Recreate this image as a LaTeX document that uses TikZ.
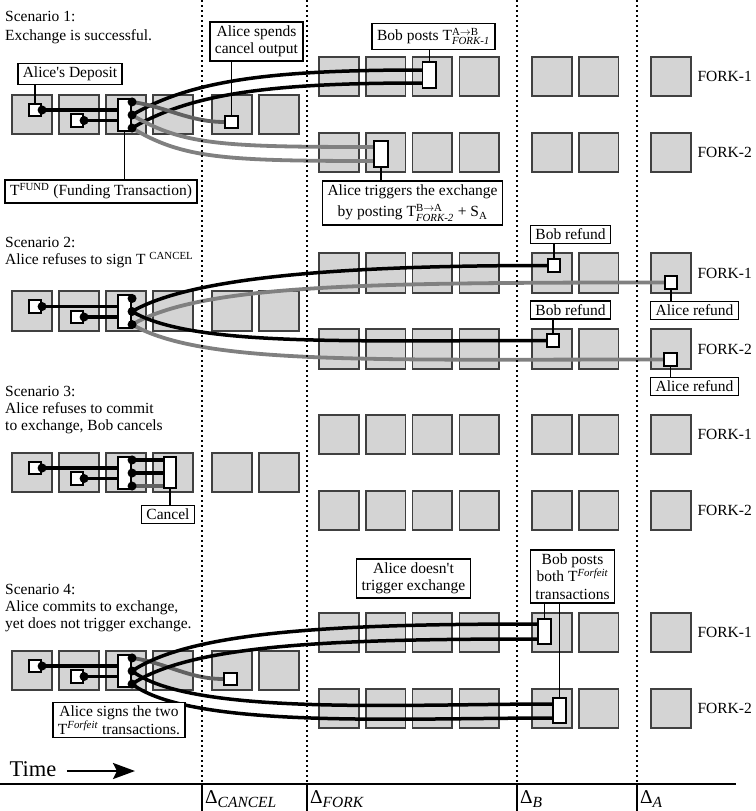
\documentclass[tikz,border=0pt]{standalone}
\usepackage{amsmath}
\usepackage{fontspec}
\setmainfont{Liberation Serif}
\usetikzlibrary{positioning, calc, arrows.meta}

\pgfdeclarelayer{blocks}
\pgfdeclarelayer{wires}
\pgfsetlayers{blocks,wires,main}

\begin{document}
\begin{tikzpicture}[x=1pt, y=-1pt,
    font=\fontsize{15.5}{17.5}\selectfont,
    blk/.style={draw=black!75, fill=black!17, line width=1.6pt, minimum size=39.5pt, inner sep=0pt},
    wbox/.style={draw=black, fill=white, line width=1.6pt, inner sep=0pt, minimum width=12.5pt, minimum height=12.5pt},
    dot/.style={circle, fill=black, inner sep=0pt, minimum size=9pt},
    lbl/.style={draw=black, fill=white, line width=1.5pt, inner xsep=5pt, inner ysep=3.5pt, align=center},
    scen/.style={anchor=north west, inner sep=0pt, align=left, font=\fontsize{15.5}{17}\selectfont},
    conn/.style={line width=1.2pt},
    tline/.style={line width=3.5pt, black},
    gline/.style={line width=3.8pt, black!50},
    cline/.style={line width=3.8pt, black!62},
    period/.style={line width=1.8pt, dash pattern=on 1.8pt off 3.2pt}]
  \useasboundingbox (0,0) rectangle (755,811);

  % Chain blocks
  \begin{pgfonlayer}{blocks}
  \foreach \s/\m in {1/114.5, 2/311, 3/472.5, 4/670.5} {
    \foreach \i/\x in {1/32, 2/79, 3/126, 4/173, 5/232, 6/279}
      \node[blk] (m\s-\i) at (\x,\m) {};
    \foreach \i/\x in {1/339, 2/385.7, 3/432.4, 4/479.1, 5/552, 6/598.7, 7/671} {
      \node[blk] (a\s-\i) at (\x,{\m-38}) {};
      \node[blk] (b\s-\i) at (\x,{\m+38}) {};
    }
  }
  \end{pgfonlayer}

  % Fork names
  \foreach \s/\m in {1/114.5, 2/311, 3/472.5, 4/670.5} {
    \node[anchor=west] (fa\s) at (694,{\m-38}) {FORK-1};
    \node[anchor=west] (fb\s) at (694,{\m+38}) {FORK-2};
  }

  % Deposits and funding transaction
  \foreach \s in {1,...,4} {
    \node[wbox] (dep\s) at ([shift={(3,-4.5)}]m\s-1.center) {};
    \node[wbox] (dpb\s) at ([shift={(-2,6)}]m\s-2.center) {};
    \node[wbox, minimum width=13.5pt, minimum height=32.5pt] (fund\s) at ([shift={(-1.5,0.5)}]m\s-3.center) {};
    \node[dot] (dd\s-1) at (dep\s.east) {};
    \node[dot] (dd\s-2) at (dpb\s.east) {};
    \node[dot] (fd\s-1) at ([yshift=-4pt]fund\s.north east) {};
    \node[dot] (fd\s-2) at (fund\s.east) {};
    \node[dot] (fd\s-3) at ([yshift=4pt]fund\s.south east) {};
    \begin{pgfonlayer}{wires}
      \draw[tline] (dd\s-1.center) -- (dd\s-1 -| fund\s.west);
      \draw[tline] (dd\s-2.center) -- (dd\s-2 -| fund\s.west);
    \end{pgfonlayer}
  }

  % Scenario 1
  \node[scen] (sc1) at (5,11.5) {Scenario 1:\\[2pt]Exchange is successful.};
  \node[lbl] (depl) at (70,74) {Alice\textquotesingle s Deposit};
  \draw[conn] (dep1.north) -- (dep1.north |- depl.south);
  \node[lbl] (fundl) at (101,191.5) {T\textsuperscript{FUND} (Funding Transaction)};
  \draw[conn] (fund1.south) -- (fund1.south |- fundl.north);
  \node[wbox] (co1) at ([shift={(-0.5,7.5)}]m1-5.center) {};
  \node[lbl] (col) at (256.5,41.5) {Alice spends\\cancel output};
  \draw[conn] (co1.north) -- (co1.north |- col.south);
  \node[wbox, minimum width=13.5pt, minimum height=26.5pt] (ab1) at ([shift={(-3,-1.5)}]a1-3.center) {};
  \node[lbl, inner ysep=4.5pt] (abl) at (433.5,36.5) {Bob posts T$^{\textrm{A}\to\textrm{B}}_{\textit{FORK-1}}$};
  \draw[conn] (ab1.north) -- (ab1.north |- abl.south);
  \node[wbox, minimum width=14.5pt, minimum height=26.5pt] (ba1) at ([shift={(-4.7,1.5)}]b1-2.center) {};
  \node[lbl] (bal) at (412.5,203) {Alice triggers the exchange\\[4pt]by posting T$^{\textrm{B}\to\textrm{A}}_{\textit{FORK-2}}$ + S$_{\textrm{A}}$};
  \draw[conn] (ba1.south) -- (ba1.south |- bal.north);
  \begin{pgfonlayer}{wires}
    \draw[tline] (fd1-2.center) .. controls +(60,-35) and +(-150,0) .. ([yshift=5pt]ab1.west);
    \draw[tline] (fd1-3.center) .. controls +(60,-35) and +(-150,0) .. ([yshift=-8pt]ab1.west);
    \draw[cline] (fd1-1.center) .. controls +(35,5) and +(-35,0) .. (co1.west);
    \draw[gline] (fd1-2.center) .. controls +(50,30) and +(-150,0) .. ([yshift=7pt]ba1.west);
    \draw[gline] (fd1-3.center) .. controls +(50,30) and +(-150,0) .. ([yshift=-7pt]ba1.west);
  \end{pgfonlayer}

  % Scenario 2
  \node[scen] (sc2) at (5,237.5) {Scenario 2:\\Alice refuses to sign T \textsuperscript{CANCEL}};
  \node[wbox] (bo2a) at ([shift={(2,-7.5)}]a2-5.center) {};
  \node[wbox] (al2a) at ([shift={(0,9.5)}]a2-7.center) {};
  \node[wbox] (bo2b) at ([shift={(1,-8.5)}]b2-5.center) {};
  \node[wbox] (al2b) at ([shift={(-0.5,10.5)}]b2-7.center) {};
  \node[lbl] (bol2a) at (570.5,234.5) {Bob refund};
  \node[lbl] (all2a) at (694.5,310.5) {Alice refund};
  \node[lbl] (bol2b) at (570.5,310) {Bob refund};
  \node[lbl] (all2b) at (694.5,386.5) {Alice refund};
  \draw[conn] (bo2a.north) -- (bo2a.north |- bol2a.south);
  \draw[conn] (al2a.south) -- (al2a.south |- all2a.north);
  \draw[conn] (bo2b.north) -- (bo2b.north |- bol2b.south);
  \draw[conn] (al2b.south) -- (al2b.south |- all2b.north);
  \begin{pgfonlayer}{wires}
    \draw[tline] (fd2-2.center) .. controls +(60,-35) and +(-200,0) .. (bo2a.west);
    \draw[gline] (fd2-3.center) .. controls +(70,-40) and +(-300,0) .. (al2a.west);
    \draw[tline] (fd2-2.center) .. controls +(60,35) and +(-200,0) .. (bo2b.west);
    \draw[gline] (fd2-3.center) .. controls +(70,40) and +(-300,0) .. (al2b.west);
  \end{pgfonlayer}

  % Scenario 3
  \node[scen] (sc3) at (5,386.5) {Scenario 3:\\Alice refuses to commit\\to exchange, Bob cancels};
  \node[wbox, minimum width=12.5pt, minimum height=31.5pt] (can3) at ([shift={(-3,0)}]m3-4.center) {};
  \node[lbl] (canl) at (168,514.5) {Cancel};
  \draw[conn] (can3.south) -- (can3.south |- canl.north);
  \begin{pgfonlayer}{wires}
    \draw[tline] (fd3-1.center) -- (fd3-1 -| can3.west);
    \draw[tline] (fd3-2.center) -- (fd3-2 -| can3.west);
    \draw[cline] (fd3-3.center) -- (fd3-3 -| can3.west);
  \end{pgfonlayer}

  % Scenario 4
  \node[scen] (sc4) at (5,584.5) {Scenario 4:\\Alice commits to exchange,\\yet does not trigger exchange.};
  \node[wbox] (co4) at ([shift={(-1.5,8.5)}]m4-5.center) {};
  \node[wbox, minimum width=13.5pt, minimum height=25.5pt] (fo4a) at ([shift={(-7.5,-1)}]a4-5.center) {};
  \node[wbox, minimum width=13.5pt, minimum height=25.5pt] (fo4b) at ([shift={(7.5,2)}]b4-5.center) {};
  \node[lbl] (sign) at (119,720) {Alice signs the two\\T\textsuperscript{\textit{Forfeit}} transactions.};
  \node[lbl] (notrig) at (413.5,578.5) {Alice doesn\textquotesingle t\\trigger exchange};
  \node[lbl] (both) at (572.5,576.5) {Bob posts\\both T\textsuperscript{\textit{Forfeit}}\\transactions};
  \draw[conn] (fo4a.north) -- (fo4a.north |- both.south);
  \draw[conn] (fo4b.north) -- (fo4b.north |- both.south);
  \begin{pgfonlayer}{wires}
    \draw[cline] (fd4-1.center) .. controls +(35,5) and +(-35,0) .. (co4.west);
    \draw[tline] (fd4-2.center) .. controls +(60,-40) and +(-200,0) .. ([yshift=7.5pt]fo4a.west);
    \draw[tline] (fd4-3.center) .. controls +(60,-40) and +(-200,0) .. ([yshift=-7.5pt]fo4a.west);
    \draw[tline] (fd4-2.center) .. controls +(60,45) and +(-150,0) .. ([yshift=6.5pt]fo4b.west);
    \draw[tline] (fd4-3.center) .. controls +(60,45) and +(-150,0) .. ([yshift=-7.5pt]fo4b.west);
  \end{pgfonlayer}

  % Time axis and periods
  \node (timel) at (33,769) {\fontsize{22.5}{23}\selectfont Time};
  \coordinate (timeend) at (135,771);
  \draw[line width=2.5pt, -{Stealth[length=22pt, width=16pt, inset=4pt]}] ([xshift=7pt]timel.east |- timeend) -- (timeend);
  \coordinate (ax0) at (0,784);
  \coordinate (ax1) at (736,784);
  \draw[line width=1.6pt] (ax0) -- (ax1);
  \foreach \x/\nm/\lab in {202/cancel/CANCEL, 307/fork/FORK, 517/b/B, 637/a/A} {
    \draw[period] (\x,0) -- (\x,784);
    \draw[line width=1.6pt] (\x,784) -- (\x,811);
    \node[anchor=base west, inner xsep=3pt] (dl-\nm) at (\x,803) {{\fontsize{19.5}{20}\selectfont Δ}\raisebox{-4pt}{\textit{\lab}}};
  }
\end{tikzpicture}
\end{document}
